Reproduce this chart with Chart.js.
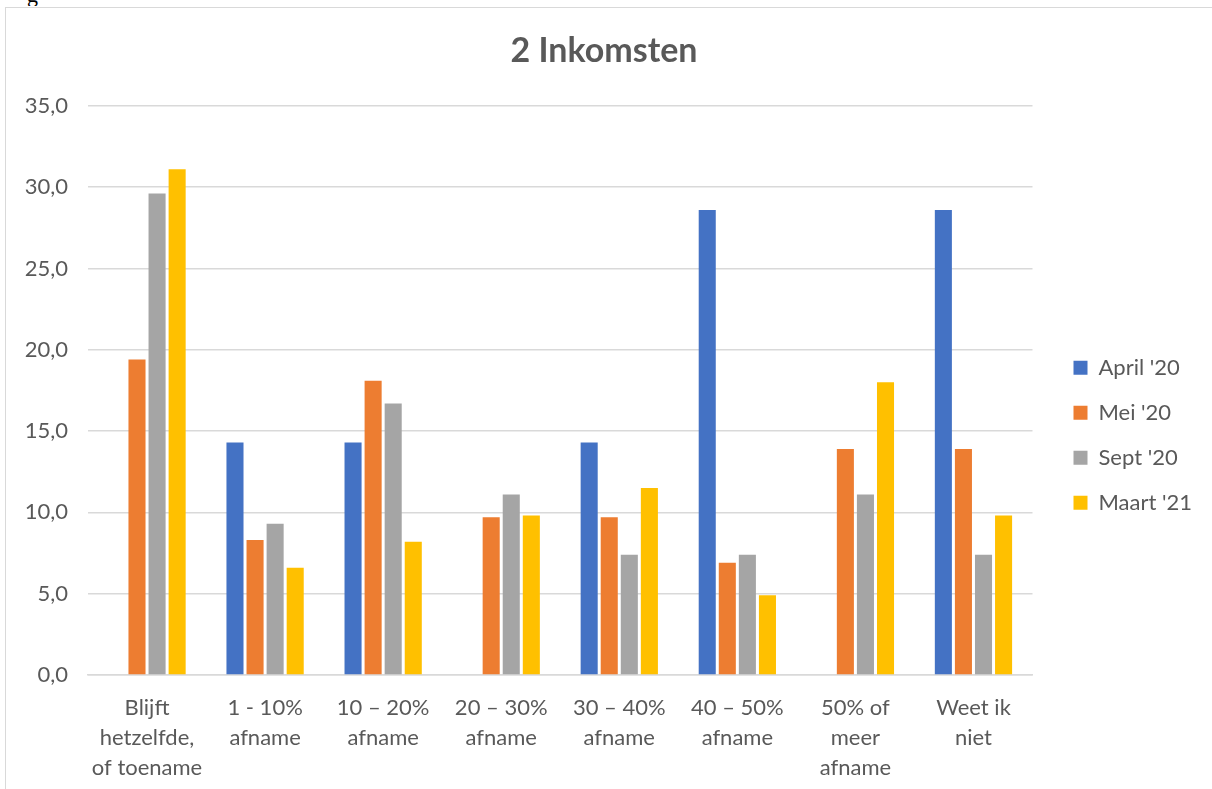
<!DOCTYPE html>
<html>
<head>
<meta charset="utf-8">
<script src="https://cdn.jsdelivr.net/npm/chart.js@4"></script>
<style>
  html, body { margin: 0; padding: 0; background: #fff; }
  #wrap {
    position: absolute; left: 5px; top: 7px; width: 1206px; height: 782px;
    border-left: 1px solid #d9d9d9; border-top: 1px solid #d9d9d9; border-right: 1px solid #d9d9d9;
  }
  #cut {
    position: absolute; left: 27px; top: 0; height: 6px; width: 20px; overflow: hidden;
    font-family: "Liberation Serif", serif; font-size: 22px; line-height: 22px;
  }
  #cut div { margin-top: -16px; }
</style>
</head>
<body>
<div id="cut"><div>g</div></div>
<div id="wrap"><canvas id="myChart"></canvas></div>
<script>
const categories = [
  ['Blijft', 'hetzelfde,', 'of toename'],
  ['1 - 10%', 'afname'],
  ['10 \u2013 20%', 'afname'],
  ['20 \u2013 30%', 'afname'],
  ['30 \u2013 40%', 'afname'],
  ['40 \u2013 50%', 'afname'],
  ['50% of', 'meer', 'afname'],
  ['Weet ik', 'niet']
];
const seriesNames = ["April '20", "Mei '20", "Sept '20", "Maart '21"];
const april20 = [0, 14.3, 14.3, 0, 14.3, 28.6, 0, 28.6];
const mei20 = [19.4, 8.3, 18.1, 9.7, 9.7, 6.9, 13.9, 13.9];
const sept20 = [29.6, 9.3, 16.7, 11.1, 7.4, 7.4, 11.1, 7.4];
const maart21 = [31.1, 6.6, 8.2, 9.8, 11.5, 4.9, 18.0, 9.8];
const colors = ['#4472C4', '#ED7D31', '#A5A5A5', '#FFC000'];

const textColor = '#595959';
const fontFamily = 'Lato, "Liberation Sans", sans-serif';

const canvas = document.getElementById('myChart');
canvas.width = 1206;
canvas.height = 782;
canvas.style.width = '1206px';
canvas.style.height = '782px';

// empty box between the plot and the legend, to widen the gap
const legendGap = {
  id: 'legendGap',
  beforeInit(chart) {
    const box = {
      position: 'right',
      weight: 500,
      fullSize: false,
      options: {},
      width: 0,
      height: 0,
      isHorizontal() { return false; },
      update(maxWidth, maxHeight) {
        this.width = 18;
        this.height = maxHeight;
      },
      draw() {}
    };
    Chart.layouts.addBox(chart, box);
  }
};

const ctx = canvas.getContext('2d');
new Chart(ctx, {
  type: 'bar',
  data: {
    labels: categories,
    datasets: [april20, mei20, sept20, maart21].map((vals, i) => ({
      label: seriesNames[i],
      data: vals,
      backgroundColor: colors[i],
      borderWidth: 0,
      barPercentage: 0.85,
      categoryPercentage: 0.68
    }))
  },
  plugins: [legendGap],
  options: {
    responsive: false,
    animation: false,
    layout: { padding: { left: 0, right: 10, top: 0, bottom: 0 } },
    plugins: {
      title: {
        display: true,
        text: '2 Inkomsten',
        color: textColor,
        font: { family: fontFamily, size: 34, weight: 'bold' },
        padding: { top: 23, bottom: 34 }
      },
      legend: {
        position: 'right',
        title: { display: true, text: ' ', padding: { top: 58 } },
        labels: {
          color: textColor,
          font: { family: fontFamily, size: 22 },
          boxWidth: 14,
          boxHeight: 14,
          padding: 23
        }
      },
      tooltip: { enabled: false }
    },
    scales: {
      x: {
        afterFit: (scale) => { scale.height = 115; },
        grid: { display: false },
        border: { color: '#d9d9d9', width: 1.5 },
        ticks: {
          color: textColor,
          font: { family: fontFamily, size: 22, lineHeight: 1.36 },
          padding: 10,
          maxRotation: 0,
          autoSkip: false
        }
      },
      y: {
        min: 0,
        max: 35,
        afterFit: (scale) => { scale.width = 82; },
        grid: { color: '#d9d9d9', lineWidth: 1.5, drawTicks: false },
        border: { display: false },
        ticks: {
          stepSize: 5,
          color: textColor,
          font: { family: fontFamily, size: 22 },
          padding: 20,
          callback: (v) => v.toFixed(1).replace('.', ',')
        }
      }
    }
  }
});
</script>
</body>
</html>
